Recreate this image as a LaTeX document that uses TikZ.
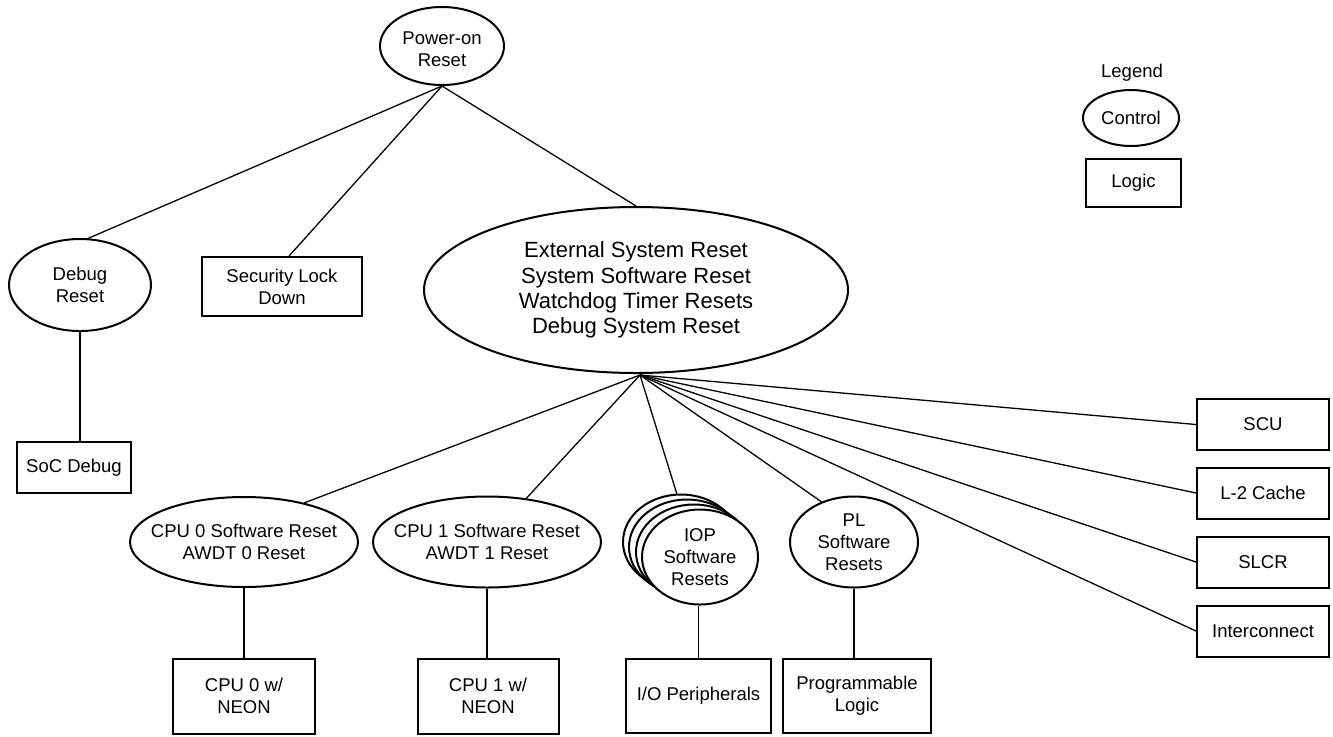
\documentclass[tikz,border=0pt]{standalone}
\usepackage{fontspec}
\setmainfont{Liberation Sans}
\usetikzlibrary{shapes.geometric,calc}
\tikzset{
  ctl/.style={draw, ellipse, line width=1pt, inner sep=0pt, fill=white},
  lbl/.style={align=center, inner sep=0pt, font=\fontsize{9.25pt}{11pt}\selectfont},
  biglbl/.style={align=center, inner sep=0pt, font=\fontsize{11pt}{12.65pt}\selectfont},
  lgc/.style={draw, rectangle, line width=1pt, inner sep=0pt, align=center, fill=white,
    font=\fontsize{9.25pt}{11pt}\selectfont},
  con/.style={line width=0.65pt},
}
\begin{document}
\begin{tikzpicture}[x=0.5pt,y=-0.5pt]
\useasboundingbox (0,0) rectangle (1333,736);
% control nodes
\node[ctl, minimum width=62pt, minimum height=39pt,
  label={[lbl,yshift=-1.5pt]center:Power-on\\Reset}] (pwr) at (442,46) {};
\node[ctl, minimum width=71pt, minimum height=46pt,
  label={[lbl]center:Debug\\Reset}] (dbg) at (80,285) {};
\node[ctl, minimum width=212pt, minimum height=83pt,
  label={[biglbl]center:External System Reset\\System Software Reset\\Watchdog Timer Resets\\Debug System Reset}] (big) at (636,290) {};
\node[ctl, minimum width=114pt, minimum height=45pt,
  label={[lbl]center:CPU 0 Software Reset\\AWDT 0 Reset}] (cpu0) at (244,542) {};
\node[ctl, minimum width=114pt, minimum height=45.5pt,
  label={[lbl]center:CPU 1 Software Reset\\AWDT 1 Reset}] (cpu1) at (487,542) {};
\node[ctl, minimum width=58pt, minimum height=47.5pt] (iop3) at (681,542) {};
\node[ctl, minimum width=58pt, minimum height=47.5pt] (iop2) at (687,547) {};
\node[ctl, minimum width=58pt, minimum height=47.5pt] (iop1) at (694,552) {};
\node[ctl, minimum width=58pt, minimum height=47.5pt,
  label={[lbl]center:IOP\\Software\\Resets}] (iop) at (700,557) {};
\node[ctl, minimum width=64pt, minimum height=45.5pt,
  label={[lbl]center:PL\\Software\\Resets}] (pl) at (854,542) {};
% logic nodes
\node[lgc, minimum width=80pt, minimum height=29.5pt] (sec) at (282,286.5) {Security Lock\\Down};
\node[lgc, minimum width=57pt, minimum height=25.5pt] (soc) at (74,467.5) {SoC Debug};
\node[lgc, minimum width=71pt, minimum height=37.5pt] (cpu0b) at (244,696) {CPU 0 w/\\NEON};
\node[lgc, minimum width=70.5pt, minimum height=37.5pt] (cpu1b) at (488,696) {CPU 1 w/\\NEON};
\node[lgc, minimum width=72.5pt, minimum height=37pt] (io) at (698.5,696) {I/O Peripherals};
\node[lgc, minimum width=74pt, minimum height=37pt] (plb) at (857,696) {Programmable\\Logic};
\node[lgc, minimum width=66pt, minimum height=25.5pt] (scu) at (1263,424.5) {SCU};
\node[lgc, minimum width=66pt, minimum height=25.5pt] (l2) at (1263,493) {L-2 Cache};
\node[lgc, minimum width=66pt, minimum height=25.5pt] (slcr) at (1263,562) {SLCR};
\node[lgc, minimum width=66pt, minimum height=25.5pt] (ic) at (1263,631) {Interconnect};
% legend
\node[lbl] (leg) at (1132,73) {Legend};
\node[ctl, minimum width=48pt, minimum height=28pt,
  label={[lbl]center:Control}] (ctrl) at (1131,118) {};
\node[lgc, minimum width=47.5pt, minimum height=24pt] (logic) at (1133.5,183) {Logic};
% connectors
\coordinate (hub) at (640,375);
\draw[con] (pwr.south) -- (dbg.80);
\draw[con] (pwr.south) -- (sec.77);
\draw[con] (pwr.south) -- (big.north);
\draw[con] (dbg.south) -- (dbg.south |- soc.north);
\draw[con] (hub) -- (cpu0.33);
\draw[con] (hub) -- (cpu1.48);
\draw[con] (hub) -- (iop3.95);
\draw[con] (hub) -- (pl.129);
\draw[con] (hub) -- (scu.west);
\draw[con] (hub) -- (l2.west);
\draw[con] (hub) -- (slcr.west);
\draw[con] (hub) -- (ic.west);
\draw[con] (cpu0.south) -- (cpu0.south |- cpu0b.north);
\draw[con] (cpu1.south) -- (cpu1.south |- cpu1b.north);
\draw[con] (io.north |- iop.south) -- (io.north);
\draw[con] (pl.south) -- (pl.south |- plb.north);
\end{tikzpicture}
\end{document}
